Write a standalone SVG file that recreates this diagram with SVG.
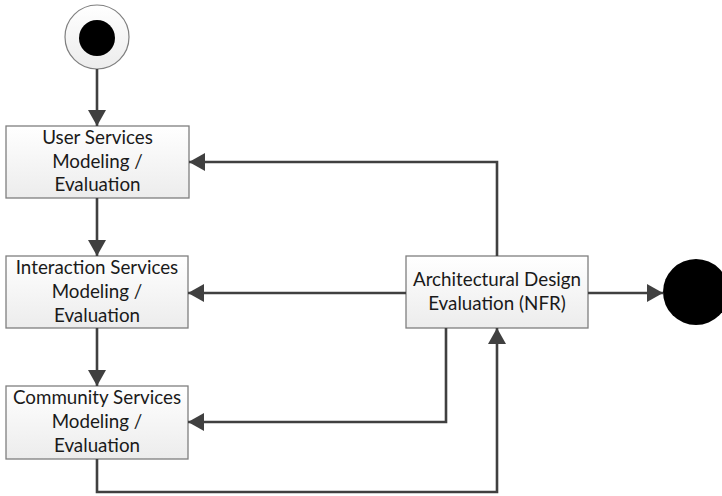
<svg xmlns="http://www.w3.org/2000/svg" width="722" height="496" viewBox="0 0 722 496">
  <defs>
    <linearGradient id="boxFill" x1="0" y1="0" x2="0" y2="1">
      <stop offset="0" stop-color="#ffffff"/>
      <stop offset="1" stop-color="#ececec"/>
    </linearGradient>
    <linearGradient id="ringFill" x1="0" y1="0" x2="0" y2="1">
      <stop offset="0" stop-color="#ffffff"/>
      <stop offset="1" stop-color="#ececec"/>
    </linearGradient>
    <marker id="arrow" viewBox="0 0 16 18" refX="16" refY="9" markerWidth="16" markerHeight="18" markerUnits="userSpaceOnUse" orient="auto">
      <path d="M0,0 L16,9 L0,18 Z" fill="#404040"/>
    </marker>
    <style>
      .box { fill: url(#boxFill); stroke: #7f7f7f; stroke-width: 1.3; }
      .label { font-family: Lato, "Open Sans", "Liberation Sans", sans-serif; font-size: 18.8px; fill: #1a1a1a; text-anchor: middle; }
      .edge { fill: none; stroke: #404040; stroke-width: 2.6; marker-end: url(#arrow); }
    </style>
  </defs>

  <!-- initial state -->
  <g id="start">
    <circle cx="97" cy="37" r="32" fill="url(#ringFill)" stroke="#7f7f7f" stroke-width="1.2"/>
    <circle cx="97" cy="38" r="18" fill="#000000"/>
  </g>

  <!-- final state -->
  <g id="end">
    <circle cx="696" cy="292" r="33" fill="#000000"/>
  </g>

  <g id="user-services">
    <rect class="box" x="6" y="126" width="183" height="72"/>
    <text class="label" x="97.5" y="144">User Services</text>
    <text class="label" x="97.5" y="168">Modeling /</text>
    <text class="label" x="97.5" y="191">Evaluation</text>
  </g>

  <g id="interaction-services">
    <rect class="box" x="6" y="256" width="182" height="72"/>
    <text class="label" x="97" y="274">Interaction Services</text>
    <text class="label" x="97" y="298">Modeling /</text>
    <text class="label" x="97" y="322">Evaluation</text>
  </g>

  <g id="community-services">
    <rect class="box" x="6" y="386" width="182" height="73"/>
    <text class="label" x="97" y="404">Community Services</text>
    <text class="label" x="97" y="428">Modeling /</text>
    <text class="label" x="97" y="452">Evaluation</text>
  </g>

  <g id="architectural-design">
    <rect class="box" x="406" y="256" width="182" height="72"/>
    <text class="label" x="497" y="286">Architectural Design</text>
    <text class="label" x="497" y="310">Evaluation (NFR)</text>
  </g>

  <g id="connectors">
    <path class="edge" d="M97,69 L97,126"/>
    <path class="edge" d="M97,198 L97,256"/>
    <path class="edge" d="M97,328 L97,386"/>
    <path class="edge" d="M497,256 L497,162 L189,162"/>
    <path class="edge" d="M406,293 L188,293"/>
    <path class="edge" d="M446,328 L446,422 L188,422"/>
    <path class="edge" d="M97,459 L97,492 L497,492 L497,328"/>
    <path class="edge" d="M588,293 L663,293"/>
  </g>
</svg>
